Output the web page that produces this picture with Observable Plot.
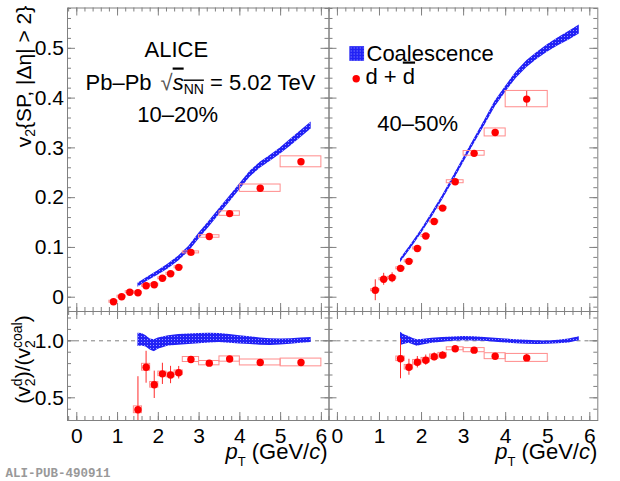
<!DOCTYPE html>
<html><head><meta charset="utf-8">
<script src="https://cdn.jsdelivr.net/npm/d3@7"></script>
<script src="https://cdn.jsdelivr.net/npm/@observablehq/plot@0.6"></script>
<style>
html,body{margin:0;padding:0;background:#fff;}
#wrap{position:relative;width:620px;height:481px;overflow:hidden;background:#fff;}
#wrap svg{position:absolute;left:0;top:0;}
</style></head><body>
<svg width="0" height="0" style="position:absolute">
<defs>
<pattern id="hatch" patternUnits="userSpaceOnUse" width="3" height="3">
<rect width="3" height="3" fill="#2222f5"/>
<rect x="0" y="0" width="1" height="1" fill="#9a9aff"/>
</pattern></defs></svg>
<div id="wrap"></div>
<script>
// ---------------- data ----------------
const ptC  = [0.9, 1.1, 1.3, 1.5, 1.7, 1.9, 2.1, 2.3, 2.5, 2.8, 3.25, 3.75, 4.5, 5.5];
const ptLo = [0.8, 1.0, 1.2, 1.4, 1.6, 1.8, 2.0, 2.2, 2.4, 2.6, 3.0, 3.5, 4.0, 5.0];
const ptHi = [1.0, 1.2, 1.4, 1.6, 1.8, 2.0, 2.2, 2.4, 2.6, 3.0, 3.5, 4.0, 5.0, 6.0];

const v2_1020     = [-0.009, 0.001, 0.010, 0.009, 0.023, 0.025, 0.038, 0.047, 0.060, 0.090, 0.122, 0.168, 0.219, 0.272];
const v2Stat_1020 = [0.006, 0.004, 0.004, 0.004, 0.004, 0.004, 0.004, 0.004, 0.004, 0.003, 0.003, 0.003, 0.005, 0.006];
const v2Sys_1020  = [0.002, 0.002, 0.002, 0.002, 0.002, 0.002, 0.002, 0.002, 0.002, 0.002, 0.0025, 0.0045, 0.0074, 0.011];

const v2_4050     = [0.014, 0.036, 0.039, 0.058, 0.072, 0.098, 0.123, 0.152, 0.179, 0.232, 0.289, 0.331, 0.398];
const v2Stat_4050 = [0.021, 0.012, 0.010, 0.006, 0.005, 0.005, 0.005, 0.005, 0.005, 0.004, 0.004, 0.006, 0.0155];
const v2Sys_4050  = [0.002, 0.002, 0.002, 0.002, 0.002, 0.002, 0.002, 0.002, 0.002, 0.003, 0.0047, 0.008, 0.0164];

// ratio starts at pT = 1.5 (index 3)
const ratio_1020     = [0.395, 0.768, 0.614, 0.710, 0.700, 0.720, 0.836, 0.804, 0.840, 0.810, 0.810];
const ratioStat_1020 = [0.29, 0.14, 0.12, 0.093, 0.076, 0.055, 0.015, 0.012, 0.012, 0.012, 0.015];
const ratioSys_1020  = [0.03, 0.03, 0.025, 0.02, 0.02, 0.02, 0.022, 0.019, 0.023, 0.026, 0.034];

const ratio_4050     = [0.842, 0.768, 0.812, 0.830, 0.860, 0.874, 0.930, 0.918, 0.865, 0.850];
const ratioStat_4050 = [0.175, 0.07, 0.05, 0.045, 0.035, 0.03, 0.012, 0.012, 0.015, 0.03];
const ratioSys_4050  = [0.02, 0.02, 0.02, 0.02, 0.02, 0.02, 0.013, 0.018, 0.026, 0.035];

// coalescence band
const coalPt      = [1.5, 1.75, 2.0, 2.25, 2.5, 2.75, 3.0, 3.25, 3.5, 3.75, 4.0, 4.25, 4.5, 4.75, 5.0, 5.25, 5.5, 5.75];
const coal_1020   = [0.024, 0.037, 0.049, 0.062, 0.078, 0.097, 0.123, 0.147, 0.172, 0.197, 0.222, 0.247, 0.265, 0.279, 0.294, 0.311, 0.328, 0.345];
const coalErr_1020= [0.004, 0.004, 0.0045, 0.005, 0.005, 0.0055, 0.006, 0.006, 0.006, 0.006, 0.006, 0.006, 0.006, 0.006, 0.0065, 0.007, 0.007, 0.007];
const coal_4050   = [0.073, 0.102, 0.132, 0.165, 0.200, 0.237, 0.275, 0.313, 0.350, 0.388, 0.418, 0.446, 0.468, 0.485, 0.500, 0.513, 0.525, 0.538];
const coalErr_4050= [0.004, 0.004, 0.004, 0.0045, 0.0045, 0.005, 0.005, 0.005, 0.0055, 0.006, 0.006, 0.0065, 0.007, 0.007, 0.0075, 0.008, 0.009, 0.009];

// coalescence band in ratio panels
const rbPt      = [1.5, 1.6, 1.7, 1.8, 1.9, 2.0, 2.25, 2.5, 2.75, 3.0, 3.25, 3.5, 3.75, 4.0, 4.25, 4.5, 4.75, 5.0, 5.25, 5.5, 5.75];
const rbLo_1020 = [0.95, 0.955, 0.945, 0.92, 0.905, 0.925, 0.955, 0.962, 0.968, 0.975, 0.98, 0.985, 0.978, 0.972, 0.968, 0.962, 0.959, 0.963, 0.97, 0.979, 0.985];
const rbHi_1020 = [1.067, 1.065, 1.045, 1.015, 1.01, 1.025, 1.045, 1.055, 1.06, 1.065, 1.067, 1.065, 1.055, 1.045, 1.035, 1.025, 1.017, 1.015, 1.018, 1.025, 1.03];
const rbLo_4050 = [0.959, 0.97, 0.979, 0.965, 0.953, 0.96, 0.978, 0.988, 0.995, 1.0, 0.998, 0.995, 0.988, 0.98, 0.975, 0.97, 0.968, 0.97, 0.975, 0.98, 1.0];
const rbHi_4050 = [1.075, 1.05, 1.038, 1.02, 1.009, 1.012, 1.022, 1.03, 1.034, 1.037, 1.035, 1.03, 1.022, 1.015, 1.01, 1.005, 1.0, 0.998, 1.005, 1.015, 1.035];

// ticks
const xMajor = [0, 1, 2, 3, 4, 5, 6];
const xMajorLabels = ["0", "1", "2", "3", "4", "5", "6"];
const yMajorUp = [0, 0.1, 0.2, 0.3, 0.4, 0.5];
const yMajorUpLabels = ["0", "0.1", "0.2", "0.3", "0.4", "0.5"];
const yMajorLow = [0.5, 1.0];
const yMajorLowLabels = ["0.5", "1.0"];

// ---------------- layout ----------------
const W = 620, H = 481;
const LX0 = 67, LX1 = 328.5, RX1 = 597.3, UY0 = 7.5, UY1 = 311, LY1 = 420;
const xDomL = [-0.228, 6.187], xDomR = [-0.2, 6.19];
const yDomUp = [-0.0287, 0.581], yDomLow = [0.301, 1.257];
const GRAY = "#808080";
const FONT = "Liberation Sans, Arial, Helvetica, sans-serif";

function rows(c, stat, sys, off) {
  return c.map((v, i) => ({pt: ptC[i + off], lo: ptLo[i + off], hi: ptHi[i + off], v, s: stat[i], e: sys[i]}));
}
function inDom(vals, dom) { return vals.filter(v => v >= dom[0] - 1e-9 && v <= dom[1] + 1e-9); }

function tickMarks(xdom, ydom, yMaj, yMinStep, fw, fh) {
  const xMin = inDom(d3.range(-0.2, 6.3, 0.2).map(v => +v.toFixed(2)), xdom);
  const yMin = inDom(d3.range(Math.ceil(ydom[0] / yMinStep) * yMinStep, ydom[1], yMinStep).map(v => +v.toFixed(3)), ydom);
  const xM = inDom(xMajor, xdom);
  return [
    Plot.tickX(xMin, {x: d => d, insetTop: fh - 4, stroke: GRAY}),
    Plot.tickX(xMin, {x: d => d, insetBottom: fh - 4, stroke: GRAY}),
    Plot.tickX(xM, {x: d => d, insetTop: fh - 8, stroke: GRAY}),
    Plot.tickX(xM, {x: d => d, insetBottom: fh - 8, stroke: GRAY}),
    Plot.tickY(yMin, {y: d => d, insetRight: fw - 4, stroke: GRAY}),
    Plot.tickY(yMin, {y: d => d, insetLeft: fw - 4, stroke: GRAY}),
    Plot.tickY(yMaj, {y: d => d, insetRight: fw - 8, stroke: GRAY}),
    Plot.tickY(yMaj, {y: d => d, insetLeft: fw - 8, stroke: GRAY}),
    Plot.frame({stroke: GRAY})
  ];
}

function dataMarks(r) {
  return [
    Plot.rect(r, {x1: "lo", x2: "hi", y1: d => d.v - d.e, y2: d => d.v + d.e, fill: "none", stroke: "#ff8c8c", clip: true}),
    Plot.ruleX(r, {x: "pt", y1: d => d.v - d.s, y2: d => d.v + d.s, stroke: "#ff2a2a", clip: true}),
    Plot.dot(r, {x: "pt", y: "v", r: 3.7, fill: "#ff0000", stroke: "none"})
  ];
}

function panel(x0, x1, y0, y1, xdom, ydom, marks) {
  return Plot.plot({
    width: W, height: H,
    marginLeft: x0, marginRight: W - x1, marginTop: y0, marginBottom: H - y1,
    x: {domain: xdom, axis: null},
    y: {domain: ydom, axis: null},
    style: {background: "transparent", overflow: "visible", fontFamily: FONT, color: "#000"},
    marks
  });
}

const bandUpL = coalPt.map((p, i) => ({p, lo: coal_1020[i] - coalErr_1020[i], hi: coal_1020[i] + coalErr_1020[i]}));
const bandUpR = coalPt.map((p, i) => ({p, lo: coal_4050[i] - coalErr_4050[i], hi: coal_4050[i] + coalErr_4050[i]}));
const bandLoL = rbPt.map((p, i) => ({p, lo: rbLo_1020[i], hi: rbHi_1020[i]}));
const bandLoR = rbPt.map((p, i) => ({p, lo: rbLo_4050[i], hi: rbHi_4050[i]}));

const TXT = {fontSize: 22, fill: "#000", fontFamily: FONT};

// Upper left
const pUL = panel(LX0, LX1, UY0, UY1, xDomL, yDomUp, [
  ...tickMarks(xDomL, yDomUp, yMajorUp, 0.02, LX1 - LX0, UY1 - UY0),
  Plot.areaY(bandUpL, {x: "p", y1: "lo", y2: "hi", fill: "url(#hatch)"}),
  ...dataMarks(rows(v2_1020, v2Stat_1020, v2Sys_1020, 0)),
  Plot.text(yMajorUp, {y: d => d, text: (d, i) => yMajorUpLabels[i], frameAnchor: "left", textAnchor: "end", lineAnchor: "middle", dx: -3.5, fontSize: 21}),
  Plot.text(["ALICE"], {...TXT, text: d => d, frameAnchor: "top-left", textAnchor: "middle", lineAnchor: "bottom", dx: 108.8, dy: 49.2}),
  Plot.text(["@PBPB"], {...TXT, text: d => d, frameAnchor: "top-left", textAnchor: "start", lineAnchor: "bottom", dx: 18, dy: 81.5}),
  Plot.text(["10–20%"], {...TXT, text: d => d, frameAnchor: "top-left", textAnchor: "start", lineAnchor: "bottom", dx: 69.7, dy: 114.2}),
  Plot.text(["@YLAB1"], {text: d => d, fontSize: 21, frameAnchor: "top-left", textAnchor: "middle", lineAnchor: "bottom", rotate: -90, dx: 30 - LX0, dy: 76 - UY0})
]);

// Upper right
const pUR = panel(LX1, RX1, UY0, UY1, xDomR, yDomUp, [
  ...tickMarks(xDomR, yDomUp, yMajorUp, 0.02, RX1 - LX1, UY1 - UY0),
  Plot.areaY(bandUpR, {x: "p", y1: "lo", y2: "hi", fill: "url(#hatch)"}),
  ...dataMarks(rows(v2_4050, v2Stat_4050, v2Sys_4050, 0)),
  Plot.dot([0], {frameAnchor: "top-left", dx: 356.2 - LX1, dy: 53 - UY0, symbol: "square", r: 8.3, fill: "url(#hatch)", stroke: "none"}),
  Plot.text(["Coalescence"], {...TXT, text: d => d, frameAnchor: "top-left", textAnchor: "start", lineAnchor: "bottom", dx: 366 - LX1, dy: 60 - UY0}),
  Plot.dot([0], {frameAnchor: "top-left", dx: 355.7 - LX1, dy: 78.3 - UY0, r: 3.7, fill: "#ff0000", stroke: "none"}),
  Plot.text(["@DDBAR"], {...TXT, text: d => d, frameAnchor: "top-left", textAnchor: "start", lineAnchor: "bottom", dx: 365 - LX1, dy: 83 - UY0}),
  Plot.text(["40–50%"], {...TXT, text: d => d, frameAnchor: "top-left", textAnchor: "start", lineAnchor: "bottom", dx: 376.7 - LX1, dy: 130 - UY0})
]);

// Lower left
const pLL = panel(LX0, LX1, UY1, LY1, xDomL, yDomLow, [
  ...tickMarks(xDomL, yDomLow, yMajorLow, 0.1, LX1 - LX0, LY1 - UY1),
  Plot.ruleY([1], {stroke: GRAY, strokeDasharray: "4 4"}),
  Plot.areaY(bandLoL, {x: "p", y1: "lo", y2: "hi", fill: "url(#hatch)"}),
  ...dataMarks(rows(ratio_1020, ratioStat_1020, ratioSys_1020, 3)),
  Plot.text(yMajorLow, {y: d => d, text: (d, i) => yMajorLowLabels[i], frameAnchor: "left", textAnchor: "end", lineAnchor: "middle", dx: -3.5, fontSize: 21}),
  Plot.text(xMajor, {x: d => d, text: (d, i) => xMajorLabels[i], frameAnchor: "bottom", lineAnchor: "top", dy: 8, fontSize: 21}),
  Plot.text(["@PTLAB"], {text: d => d, fontSize: 22, frameAnchor: "bottom-right", textAnchor: "end", lineAnchor: "bottom", dx: 327 - LX1, dy: 458 - LY1}),
  Plot.text(["@YLAB2"], {text: d => d, fontSize: 21, frameAnchor: "top-left", textAnchor: "middle", lineAnchor: "bottom", rotate: -90, dx: 29 - LX0, dy: 359 - UY1}),
  Plot.text(["ALI-PUB-490911"], {text: d => d, frameAnchor: "bottom-left", textAnchor: "start", lineAnchor: "bottom", dx: 5 - LX0, dy: 476 - LY1, fontFamily: "Liberation Mono, DejaVu Sans Mono, monospace", fontWeight: "bold", fontSize: 12.5, fill: "#999"})
]);

// Lower right
const pLR = panel(LX1, RX1, UY1, LY1, xDomR, yDomLow, [
  ...tickMarks(xDomR, yDomLow, yMajorLow, 0.1, RX1 - LX1, LY1 - UY1),
  Plot.ruleY([1], {stroke: GRAY, strokeDasharray: "4 4"}),
  Plot.areaY(bandLoR, {x: "p", y1: "lo", y2: "hi", fill: "url(#hatch)"}),
  ...dataMarks(rows(ratio_4050, ratioStat_4050, ratioSys_4050, 3)),
  Plot.text(xMajor, {x: d => d, text: (d, i) => xMajorLabels[i], frameAnchor: "bottom", lineAnchor: "top", dy: 8, fontSize: 21}),
  Plot.text(["@PTLAB"], {text: d => d, fontSize: 22, frameAnchor: "bottom-right", textAnchor: "end", lineAnchor: "bottom", dx: -0.5, dy: 458 - LY1})
]);

const wrap = document.getElementById("wrap");
[pUL, pUR, pLL, pLR].forEach(s => wrap.appendChild(s));

// rich text (sub/superscripts, overlines)
const RICH = {
  "@PBPB": 'Pb–Pb<tspan dx="9" fill="#555">√</tspan><tspan font-style="italic" text-decoration="overline">s</tspan><tspan font-size="14" dy="4" text-decoration="overline">NN</tspan><tspan dy="-4"> = 5.02 TeV</tspan>',
  "@DDBAR": 'd + <tspan text-decoration="overline">d</tspan>',
  "@YLAB1": 'v<tspan font-size="14" dy="4">2</tspan><tspan dy="-4">{SP, |Δη| &gt; 2}</tspan>',
  "@YLAB2": '(v<tspan font-size="14" dy="-8">d</tspan><tspan font-size="14" dx="-7.8" dy="13">2</tspan><tspan dy="-5">)/(v</tspan><tspan font-size="14" dy="-8">coal</tspan><tspan font-size="14" dx="-25.7" dy="13">2</tspan><tspan dx="17.9" dy="-5">)</tspan>',
  "@PTLAB": '<tspan font-style="italic">p</tspan><tspan font-size="13" dy="7">T</tspan><tspan dy="-7"> (GeV/</tspan><tspan font-style="italic">c</tspan><tspan>)</tspan>'
};
d3.select(wrap).selectAll("text").each(function() {
  const k = this.textContent;
  if (RICH[k]) this.innerHTML = RICH[k];
});
</script>
</body></html>
